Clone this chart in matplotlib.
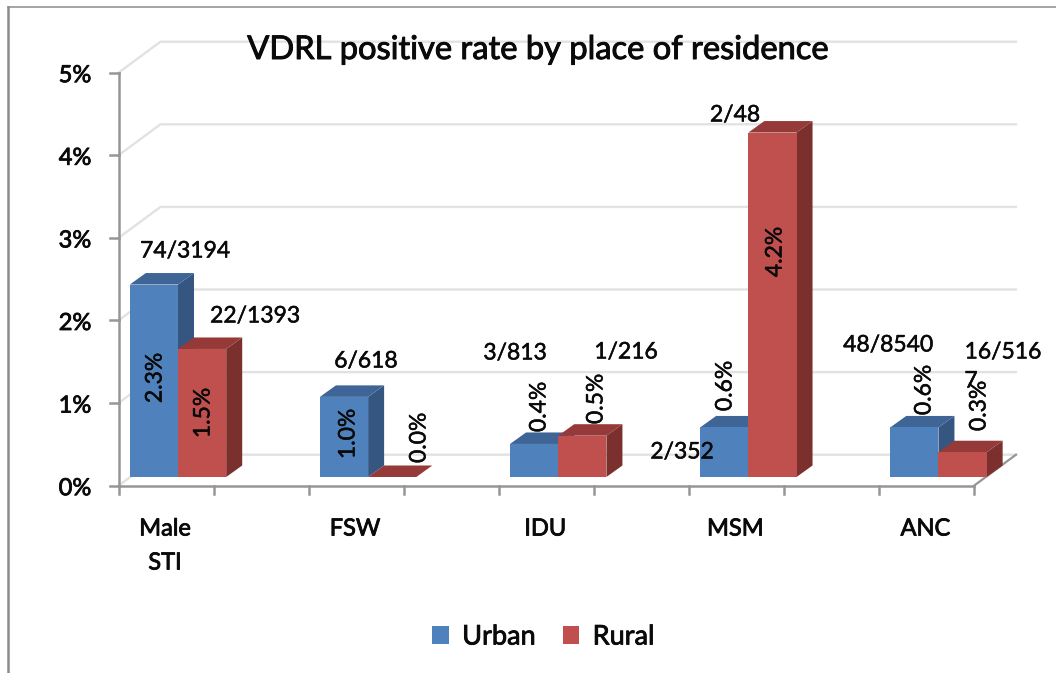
import matplotlib
matplotlib.use("Agg")
import matplotlib.pyplot as plt
import matplotlib.patheffects as path_effects
from matplotlib.patches import Polygon, Patch
from matplotlib.lines import Line2D

plt.rcParams['font.family'] = ['Lato', 'DejaVu Sans']

# =========================
# data
# =========================
categories = ["Male\nSTI", "FSW", "IDU", "MSM", "ANC"]
urban = [2.33, 0.97, 0.4, 0.6, 0.6]
rural = [1.55, 0.0, 0.5, 4.17, 0.3]
urban_labels = ["2.3%", "1.0%", "0.4%", "0.6%", "0.6%"]
rural_labels = ["1.5%", "0.0%", "0.5%", "4.2%", "0.3%"]
count_labels = ["74/3194", "22/1393", "6/618", "3/813", "1/216", "2/48", "2/352", "48/8540", "16/516", "7"]
y_ticks = [0, 1, 2, 3, 4, 5]

# where the loose labels sit, in pixels of the original picture
count_pos = [(185, 251), (255, 316), (366, 361), (515, 353), (626, 352),
             (735, 115), (682, 452), (888, 345), (1003, 352), (971, 381)]
urban_label_pos = [(155, 378), (348, 434), (539, 407), (725, 386), (924, 390)]
rural_label_pos = [(203, 413), (419, 438), (596, 399), (775, 252), (979, 406)]

W, H = 1056, 673
fig = plt.figure(figsize=(W/100, H/100), dpi=100, facecolor="white")

# axes box = front edge of the 3d floor
left, right, bottom, top = 118.5, 974, 485.7, 72.7
ax = fig.add_axes([left/W, 1-bottom/H, (right-left)/W, (bottom-top)/H])
ax.set_xlim(0, 4.5)
ax.set_ylim(0, 5)
ax.axis("off")

px_x = 4.5/(right-left)   # data units per pixel
px_y = 5/(bottom-top)

# =========================
# walls and grid
# =========================
wall_dx, wall_dy = 42*px_x, 31*px_y
grid_c = "#e2e2e2"
axis_c = "#969696"
for v in y_ticks:
    ax.plot([0, wall_dx, 4.5+wall_dx], [v, v+wall_dy, v+wall_dy], color=grid_c, lw=1.7, clip_on=False, zorder=1)
ax.plot([4.5, 4.5+wall_dx], [0, wall_dy], color=axis_c, lw=1.6, clip_on=False, zorder=1)

ax.plot([0, 0], [0, 5], color=axis_c, lw=1.8, clip_on=False, zorder=2)
ax.plot([0, 4.5], [0, 0], color=axis_c, lw=1.8, clip_on=False, zorder=2)
for v in y_ticks:
    ax.plot([-9*px_x, 0], [v, v], color=axis_c, lw=1.8, clip_on=False, zorder=2)
for i in range(10):
    ax.plot([i*0.5, i*0.5], [0, -8*px_y], color=axis_c, lw=1.8, clip_on=False, zorder=2)

# =========================
# bars
# =========================
bar_w = 48.2*px_x
depth_x, depth_y = 16*px_x, 11.5*px_y
base = 8.7*px_y
centers = [(178-left)*px_x + i for i in range(5)]

def draw_bar(x0, val, front, top_c, side, z):
    x1 = x0 + bar_w
    y0, y1 = base, base + val
    ax.add_patch(Polygon([(x1, y0), (x1+depth_x, y0+depth_y), (x1+depth_x, y1+depth_y), (x1, y1)],
                         fc=side, ec="none", zorder=z, clip_on=False))
    ax.add_patch(Polygon([(x0, y1), (x0+depth_x, y1+depth_y), (x1+depth_x, y1+depth_y), (x1, y1)],
                         fc=top_c, ec="none", zorder=z, clip_on=False))
    if val > 0:
        ax.add_patch(Polygon([(x0, y0), (x1, y0), (x1, y1), (x0, y1)],
                             fc=front, ec="none", zorder=z+0.1, clip_on=False))

for c, u, r in zip(centers, urban, rural):
    draw_bar(c-bar_w, u, "#4f81bd", "#3e6596", "#345681", 3)
    draw_bar(c, r, "#c0504d", "#953a38", "#7b302e", 4)

# =========================
# text
# =========================
def thicken(txt, w):
    txt.set_path_effects([path_effects.withStroke(linewidth=w, foreground=txt.get_color())])

def put(xp, yp, s, size=16.5, stroke=0.35, **kw):
    txt = fig.text(xp/W, 1-yp/H, s, ha="center", va="center", fontsize=size, color="#0a0a0a", **kw)
    thicken(txt, stroke)
    return txt

put(538, 50, "VDRL positive rate by place of residence", size=23.5, stroke=0.7, zorder=10)

for v in y_ticks:
    put(75, bottom-v/px_y+3, f"{v}%", size=17, stroke=0.6)

for c, name in zip(centers, categories):
    xp = left + c/px_x - 13
    if "\n" in name:
        a, b = name.split("\n")
        put(xp, 529, a, size=17, stroke=0.6)
        put(xp, 563, b, size=17, stroke=0.6)
    else:
        put(xp, 529, name, size=17, stroke=0.6)

for (xp, yp), s in zip(count_pos, count_labels):
    put(xp, yp, s)
for (xp, yp), s in zip(urban_label_pos, urban_labels):
    put(xp, yp, s, rotation=90, zorder=10)
for (xp, yp), s in zip(rural_label_pos, rural_labels):
    put(xp, yp, s, rotation=90, zorder=10)

handles = [Patch(fc="#4f81bd", ec="none", label="Urban"), Patch(fc="#c0504d", ec="none", label="Rural")]
leg = fig.legend(handles=handles, ncol=2, frameon=False, loc="center",
                 bbox_to_anchor=(543.5/W, 1-637/H), handlelength=0.6, handleheight=0.68,
                 handletextpad=0.5, columnspacing=1.0, labelcolor="#0a0a0a",
                 prop=dict(family="Lato", size=19.5))
for t in leg.get_texts():
    thicken(t, 0.6)

# outer frame of the pasted chart
frame_c = "#8c8c8c"
fig.add_artist(Line2D([8/W, 8/W], [1-7/H, 1-672/H], color=frame_c, lw=1.8))
fig.add_artist(Line2D([8/W, 1], [1-6.5/H, 1-6.5/H], color=frame_c, lw=1.1))

fig.savefig("out.png", dpi=100)
